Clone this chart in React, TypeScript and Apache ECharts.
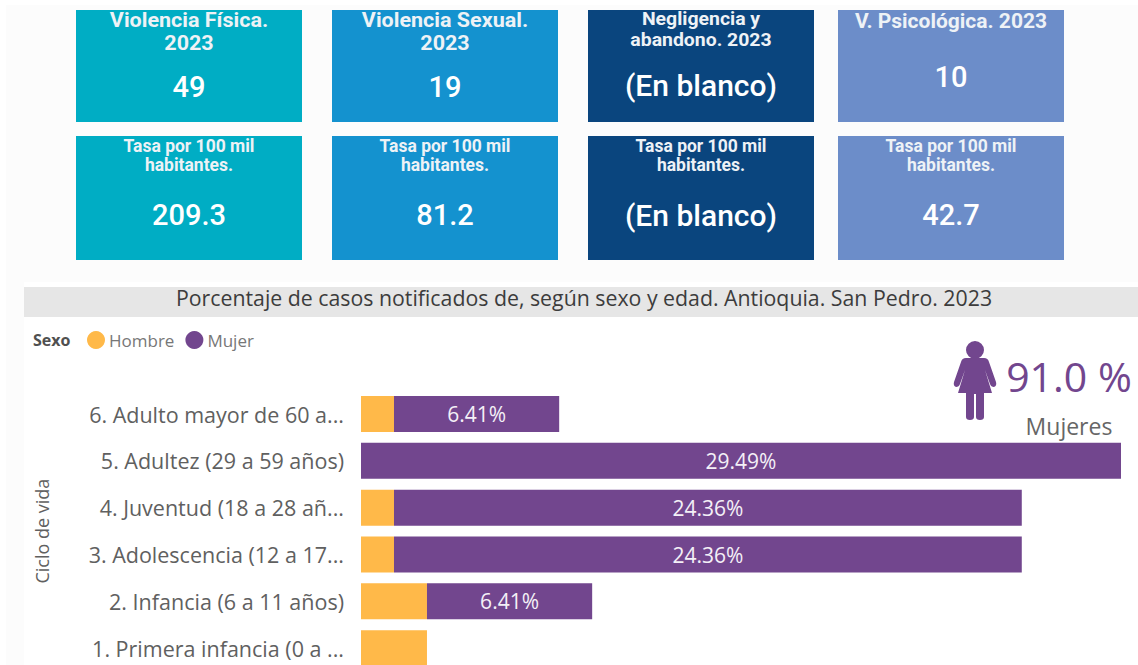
import React, { useEffect, useRef } from "react";
import * as echarts from "echarts";

const categories = [
  "1. Primera infancia (0 a ...",
  "2. Infancia (6 a 11 años)",
  "3. Adolescencia (12 a 17...",
  "4. Juventud (18 a 28 añ...",
  "5. Adultez (29 a 59 años)",
  "6. Adulto mayor de 60 a...",
];
const hombre = [2.56, 2.56, 1.28, 1.28, 0, 1.28];
const mujer = [0, 6.41, 24.36, 24.36, 29.49, 6.41];
const seriesNames = ["Hombre", "Mujer"];
const axisName = "Ciclo de vida";
const legendTitle = "Sexo";
const chartTitle = "Porcentaje de casos notificados de, según sexo y edad. Antioquia. San Pedro. 2023";
const cardTitles = [["Violencia Física.", "2023"], ["Violencia Sexual.", "2023"], ["Negligencia y", "abandono. 2023"], ["V. Psicológica. 2023"]];
const cardValues = ["49", "19", "(En blanco)", "10"];
const rateTitle = ["Tasa por 100 mil", "habitantes."];
const rateValues = ["209.3", "81.2", "(En blanco)", "42.7"];
const cardColors = ["#00adc4", "#1492cf", "#0a457e", "#6c8dc9"];
const cardLeft = [76, 332, 588, 838];
const kpiValue = "91.0 %";
const kpiLabel = "Mujeres";

const personPath =
  "M13 8 A9 9 0 1 1 31 8 A9 9 0 1 1 13 8 Z M13 16 L31 16 Q35 16 36 20 L43 40 Q44 44 41 45 Q38 45 37 42 L32 28 L39 51 L31 51 L31 75 Q31 78 27 78 Q23 78 23 75 L23 52 L21 52 L21 75 Q21 78 17 78 Q13 78 13 75 L13 51 L5 51 L12 28 L7 42 Q6 45 3 45 Q0 44 1 40 L8 20 Q9 16 13 16 Z";
echarts.graphic.registerShape("personIcon", echarts.graphic.extendPath(personPath, {}) as any);

const CARD_FONT = "Roboto";
const UI_FONT = "'Open Sans'";

function txt(x: number, y: number, text: string, size: number, fill: string, weight: any = "normal", family = CARD_FONT, align = "center", scaleX = 1) {
  return { type: "text", x, y, scaleX, z: 5, style: { text, fill, fontSize: size, fontWeight: weight, fontFamily: family, align, verticalAlign: "middle" } };
}

function buildGraphics() {
  const titleFill = "#eef2f6";
  const g: any[] = [
    { type: "rect", shape: { x: 6, y: 5, width: 1132, height: 277 }, style: { fill: "#fcfcfc" }, z: 0 },
    { type: "rect", shape: { x: 6, y: 282, width: 18, height: 398 }, style: { fill: "#fcfcfc" }, z: 0 },
    { type: "rect", shape: { x: 24, y: 287, width: 1114, height: 30 }, style: { fill: "#e6e6e6" }, z: 1 },
    txt(584, 297, chartTitle, 21.3, "#3c3c3c", "normal", UI_FONT),
    txt(33, 340, legendTitle, 16, "#505050", "bold", UI_FONT, "left"),
    { type: "personIcon", x: 953, y: 342, z: 5, style: { fill: "#72468e" } },
    txt(1069, 376, kpiValue, 41, "#72468e", "normal", UI_FONT),
    txt(1069, 426, kpiLabel, 23, "#666666", "normal", UI_FONT),
  ];
  cardLeft.forEach((x, i) => {
    const cx = x + 113;
    g.push({ type: "rect", shape: { x, y: 10, width: 226, height: 112 }, style: { fill: cardColors[i] }, z: 2 });
    g.push({ type: "rect", shape: { x, y: 136, width: 226, height: 124 }, style: { fill: cardColors[i] }, z: 2 });
    const t = cardTitles[i];
    if (i === 2) {
      g.push(
        txt(cx, 19, t[0], 18.5, titleFill, "bold", CARD_FONT, "center", 1.05),
        txt(cx, 39.5, t[1], 18.5, titleFill, "bold", CARD_FONT, "center", 1.05),
      );
    } else if (t.length === 1) {
      g.push(txt(cx, 21, t[0], 21, titleFill, "bold"));
    } else {
      g.push(
        txt(cx, 20.5, t[0], 20.5, titleFill, "bold", CARD_FONT, "center", 1.05),
        txt(cx, 43.5, t[1], 20.5, titleFill, "bold", CARD_FONT, "center", 1.05),
      );
    }
    g.push(txt(cx, i === 3 ? 77 : i === 2 ? 85 : 87, cardValues[i], i === 2 ? 30 : 29, "#ffffff", 500));
    g.push(txt(cx, 146, rateTitle[0], 17.5, titleFill, "bold"), txt(cx, 165, rateTitle[1], 17.5, titleFill, "bold"));
    g.push(txt(cx, 215, rateValues[i], i === 2 ? 30 : 29, "#ffffff", 500));
  });
  return g;
}

export default function App() {
  const ref = useRef<HTMLDivElement>(null);
  useEffect(() => {
    const chart = echarts.init(ref.current!, undefined, { renderer: "svg" });
    chart.setOption({
      animation: false,
      backgroundColor: "#ffffff",
      legend: {
        left: 82,
        top: 326,
        itemWidth: 18,
        itemHeight: 18,
        itemGap: 11,
        icon: "circle",
        data: seriesNames,
        textStyle: { color: "#777777", fontSize: 17, fontFamily: UI_FONT, padding: [0, 0, 0, -1] },
      },
      grid: { left: 361, top: 390.6, width: 760, height: 281 },
      xAxis: { type: "value", min: 0, max: 29.49, show: false },
      yAxis: {
        type: "category",
        data: categories,
        axisLine: { show: false },
        axisTick: { show: false },
        axisLabel: { color: "#606060", fontSize: 21.5, fontFamily: UI_FONT, margin: 17 },
        name: axisName,
        nameLocation: "middle",
        nameGap: 310,
        nameTextStyle: { color: "#606060", fontSize: 18, fontFamily: UI_FONT },
      },
      series: [
        {
          name: seriesNames[0],
          type: "bar",
          stack: "total",
          data: hombre,
          barWidth: 36,
          itemStyle: { color: "#ffb949" },
        },
        {
          name: seriesNames[1],
          type: "bar",
          stack: "total",
          data: mujer,
          barWidth: 36,
          itemStyle: { color: "#72468e" },
          label: {
            show: true,
            position: "inside",
            color: "#f4f0f7",
            fontSize: 21,
            fontFamily: UI_FONT,
            formatter: (p: any) => (p.value > 0 ? `${p.value.toFixed(2)}%` : ""),
          },
        },
      ],
      graphic: { elements: buildGraphics() },
    });
    return () => chart.dispose();
  }, []);
  return (
    <div style={{ position: "fixed", left: 0, top: 0, width: 1138, height: 665, overflow: "hidden" }}>
      <div ref={ref} style={{ width: 1138, height: 680 }} />
    </div>
  );
}
